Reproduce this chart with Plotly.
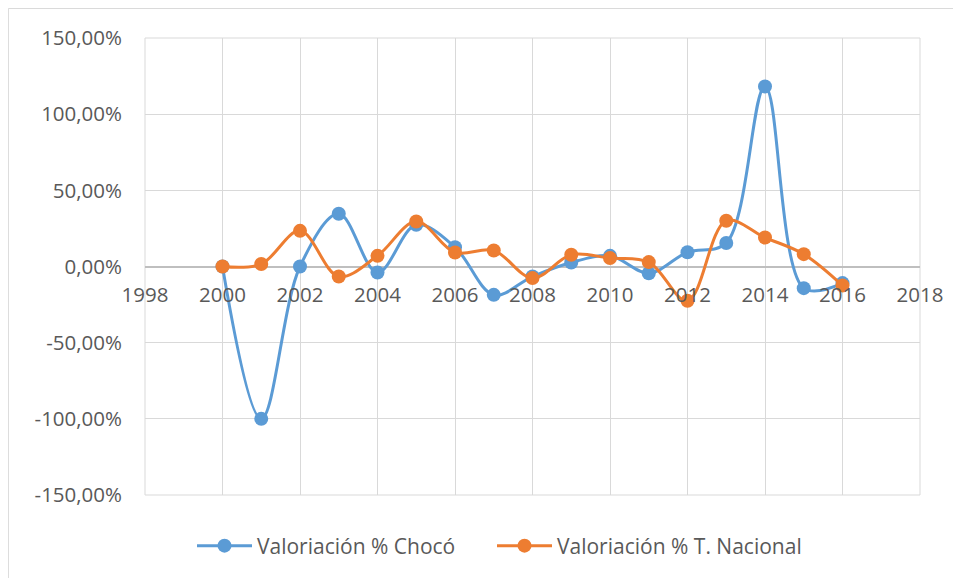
import plotly.graph_objects as go

years = list(range(2000, 2017))
choco = [0.0, -100.0, 0.0, 34.6, -3.9, 27.4, 12.7, -18.6, -6.6, 2.6, 7.0, -4.4, 9.4, 15.4, 118.2, -14.2, -10.9]
nacional = [0.0, 1.6, 23.4, -6.6, 7.0, 29.5, 9.2, 10.5, -7.6, 7.7, 5.5, 2.9, -22.5, 30.0, 19.0, 8.1, -12.5]

y_ticks = [150, 100, 50, 0, -50, -100, -150]
y_labels = ["150,00%", "100,00%", "50,00%", "0,00%", "-50,00%", "-100,00%", "-150,00%"]
x_ticks = list(range(1998, 2019, 2))

# page body has an 8px margin; figure starts at (8, 8)
W, H = 953, 570
L, R, T, B = 137, 41, 30, 83
pw, ph = W - L - R, H - T - B

font_family = "Open Sans"
grey = "#595959"

fig = go.Figure()
fig.add_trace(go.Scatter(
    x=years, y=choco, name="Valoriación % Chocó", mode="lines+markers",
    line=dict(color="#5B9BD5", width=3, shape="spline", smoothing=1.0),
    marker=dict(color="#5B9BD5", size=14), legend="legend",
))
fig.add_trace(go.Scatter(
    x=years, y=nacional, name="Valoriación % T. Nacional", mode="lines+markers",
    line=dict(color="#ED7D31", width=3, shape="spline", smoothing=1.0),
    marker=dict(color="#ED7D31", size=14), legend="legend2",
))

legend_y = -(538 - (T + ph)) / ph
fig.update_layout(
    width=W, height=H,
    margin=dict(l=L, r=R, t=T, b=B, autoexpand=False),
    paper_bgcolor="white", plot_bgcolor="white",
    font=dict(family=font_family, size=20.5, color=grey),
    showlegend=True,
    legend=dict(orientation="h", x=(184 - L) / pw, xanchor="left",
                y=legend_y, yanchor="middle",
                font=dict(size=21, color=grey), itemwidth=55),
    legend2=dict(orientation="h", x=(484 - L) / pw, xanchor="left",
                 y=legend_y, yanchor="middle",
                 font=dict(size=21, color=grey), itemwidth=55),
    xaxis=dict(range=[1998, 2018], tickvals=x_ticks, ticktext=[str(v) for v in x_ticks],
               showgrid=True, gridcolor="#D9D9D9", gridwidth=1,
               zeroline=False, showline=False, automargin=False,
               anchor="free", position=0.5, ticks="", ticklabelstandoff=14),
    yaxis=dict(range=[-150, 150], tickvals=y_ticks, ticktext=y_labels,
               showgrid=True, gridcolor="#D9D9D9", gridwidth=1,
               zeroline=True, zerolinecolor="#BFBFBF", zerolinewidth=1.5,
               showline=False, automargin=False, ticks="", ticklabelstandoff=22),
    shapes=[
        dict(type="rect", xref="paper", yref="paper",
             x0=-L / pw + 0.0005, x1=1 + (R + 20) / pw,
             y0=-(B + 20) / ph, y1=1 + T / ph - 0.001,
             line=dict(color="#D9D9D9", width=1), fillcolor="rgba(0,0,0,0)", layer="below"),
        dict(type="rect", xref="paper", yref="paper", x0=0, x1=1, y0=0, y1=1,
             line=dict(color="#D9D9D9", width=1), fillcolor="rgba(0,0,0,0)", layer="below"),
    ],
)

fig.write_html("out.html")
